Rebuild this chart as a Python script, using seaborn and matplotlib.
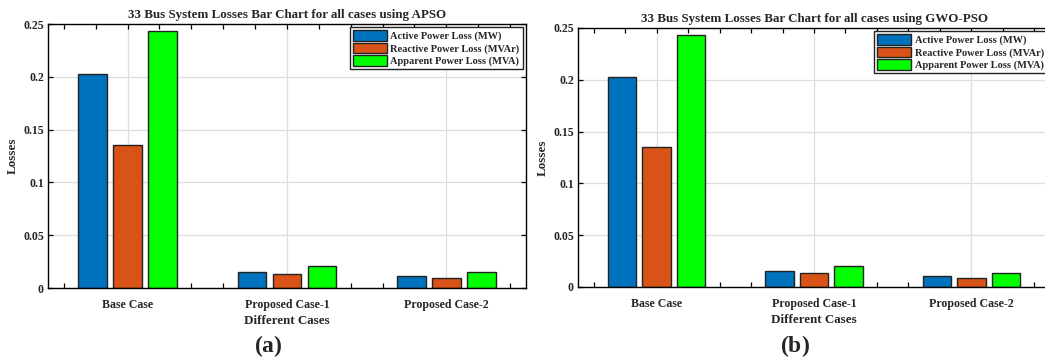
import matplotlib

matplotlib.use("Agg")
import matplotlib.pyplot as plt
from matplotlib.ticker import FixedLocator, FuncFormatter
import pandas as pd
import seaborn as sns

# 33 bus losses (MW / MVAr / MVA)
cases = ["Base Case", "Proposed Case-1", "Proposed Case-2"]
loss_types = ["Active Power Loss (MW)", "Reactive Power Loss (MVAr)", "Apparent Power Loss (MVA)"]
apso_active = [0.2027, 0.0149, 0.0117]
apso_reactive = [0.1351, 0.0136, 0.0092]
apso_apparent = [0.2436, 0.0205, 0.0149]
gwo_active = [0.2027, 0.0151, 0.0106]
gwo_reactive = [0.1351, 0.0138, 0.0087]
gwo_apparent = [0.2436, 0.0203, 0.0135]
yticks = [0, 0.05, 0.1, 0.15, 0.2, 0.25]
colors = ["#0072BD", "#D95319", "#00FF00"]

sns.set_theme(style="ticks")
plt.rcParams["font.family"] = ["Liberation Serif", "DejaVu Serif"]
plt.rcParams["font.weight"] = "bold"
plt.rcParams["mathtext.fontset"] = "custom"
plt.rcParams["mathtext.rm"] = "Liberation Serif"
plt.rcParams["mathtext.bf"] = "Liberation Serif:bold"


def to_long(active, reactive, apparent):
    rows = []
    for name, vals in zip(loss_types, [active, reactive, apparent]):
        for case, v in zip(cases, vals):
            rows.append({"case": case, "type": name, "loss": v})
    return pd.DataFrame(rows)


def draw(ax, df, title):
    ax.set_axisbelow(True)
    sns.barplot(data=df, x="case", y="loss", hue="type", order=cases, hue_order=loss_types,
                palette=colors, width=0.66, gap=0.18, edgecolor="#222222", linewidth=1.0,
                saturation=1, ax=ax, legend=True)
    ax.set_xlim(-0.5, 2.5)
    ax.set_ylim(0, 0.25)
    ax.yaxis.set_major_locator(FixedLocator(yticks))
    ax.yaxis.set_major_formatter(FuncFormatter(lambda v, p: f"{v:g}"))
    ax.xaxis.set_minor_locator(FixedLocator([x / 10 for x in range(-4, 25, 2)]))
    ax.tick_params(which="both", direction="in", top=True, right=True, length=3.5,
                   width=0.9, labelsize=8.6, pad=3, color="black")
    ax.tick_params(axis="x", which="major", length=3.5, pad=8)
    ax.grid(True, which="major", color="#dedede", linewidth=0.9)
    for s in ax.spines.values():
        s.set_color("black")
        s.set_linewidth(1.0)
    for t in ax.get_xticklabels() + ax.get_yticklabels():
        t.set_fontweight("bold")
    ax.set_title(title, fontsize=9.4, fontweight="bold", pad=4)
    ax.set_xlabel("Different Cases", fontsize=9.4, fontweight="bold", labelpad=3)
    ax.set_ylabel("Losses", fontsize=9.4, fontweight="bold", labelpad=3)
    handles, labels = ax.get_legend_handles_labels()
    leg = ax.legend(handles, labels, loc="upper right", fontsize=7.5, frameon=True,
                    fancybox=False, edgecolor="#222222", framealpha=1, handlelength=3.3,
                    handleheight=1.15, handletextpad=0.3, labelspacing=0.15,
                    borderpad=0.3, borderaxespad=0.3)
    leg.get_frame().set_linewidth(1.0)
    for t in leg.get_texts():
        t.set_fontweight("bold")


fig = plt.figure(figsize=(10.45, 3.62), dpi=100)
ax1 = fig.add_axes([0.0459, 0.2044, 0.4574, 0.7293])
ax2 = fig.add_axes([0.5531, 0.2072, 0.4517, 0.7155])

draw(ax1, to_long(apso_active, apso_reactive, apso_apparent),
     "33 Bus System Losses Bar Chart for all cases using APSO")
draw(ax2, to_long(gwo_active, gwo_reactive, gwo_apparent),
     "33 Bus System Losses Bar Chart for all cases using GWO-PSO")

fig.text(0.2565, 0.043, r"$\mathrm{(}\mathbf{a}\mathrm{)}$", ha="center", va="center", fontsize=17)
fig.text(0.7608, 0.043, r"$\mathrm{(}\mathbf{b}\mathrm{)}$", ha="center", va="center", fontsize=17)

fig.savefig("out.png", dpi=100)
